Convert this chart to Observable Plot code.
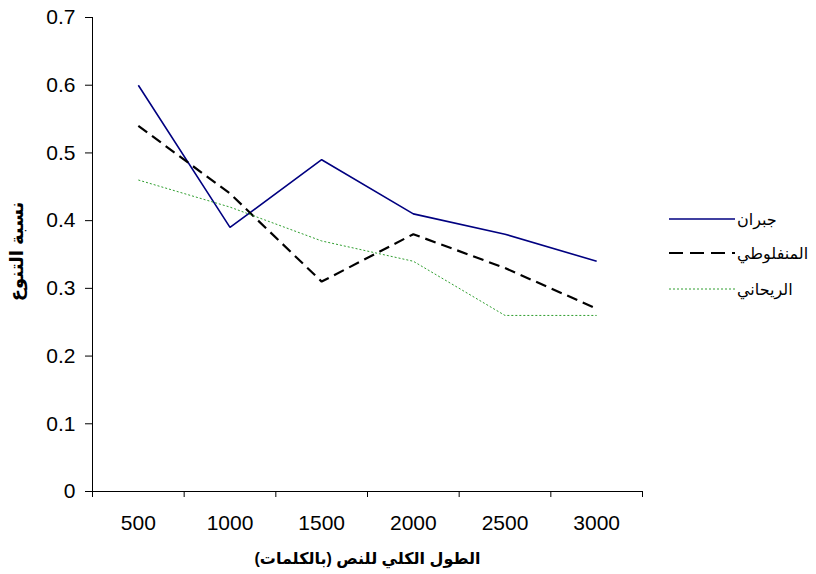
<!DOCTYPE html>
<html>
<head>
<meta charset="utf-8">
<script src="https://cdn.jsdelivr.net/npm/d3@7"></script>
<script src="https://cdn.jsdelivr.net/npm/@observablehq/plot@0.6"></script>
<style>
  html, body { margin: 0; padding: 0; background: #fff; }
  #wrap { position: relative; width: 816px; height: 574px; }
  #legend { position: absolute; left: 0; top: 0; width: 816px; height: 574px; pointer-events: none; }
  .item { position: absolute; left: 669px; height: 20px; display: flex; align-items: center; }
  .item span { font-family: "Liberation Sans", Arial, "DejaVu Sans", sans-serif; font-size: 16px; color: #000; white-space: nowrap; margin-left: 2px; }
</style>
</head>
<body>
<div id="wrap"></div>
<script>
// ---- data ----
const lengths = ["500", "1000", "1500", "2000", "2500", "3000"];
const jibran = [0.60, 0.39, 0.49, 0.41, 0.38, 0.34];
const manfaluti = [0.54, 0.44, 0.31, 0.38, 0.33, 0.27];
const rihani = [0.46, 0.42, 0.37, 0.34, 0.26, 0.26];
const yTicks = [0, 0.1, 0.2, 0.3, 0.4, 0.5, 0.6, 0.7];
const seriesNames = ["جبران", "المنفلوطي", "الريحاني"];
const xTitle = "الطول الكلي للنص (بالكلمات)";
const yTitle = "نسبة التنوع";

const idx = d3.range(lengths.length);
const bounds = d3.range(lengths.length + 1).map(i => i - 0.5);
const font = "'Liberation Sans', Arial, 'DejaVu Sans', sans-serif";

const styles = [
  {stroke: "#000080", strokeWidth: 1.6, strokeDasharray: null},
  {stroke: "#000000", strokeWidth: 2.2, strokeDasharray: "11,6"},
  {stroke: "#2e9e2e", strokeWidth: 1, strokeDasharray: "2,2"}
];
const series = [jibran, manfaluti, rihani];

const chart = Plot.plot({
  width: 816,
  height: 574,
  marginLeft: 92,
  marginRight: 174,
  marginTop: 17,
  marginBottom: 83,
  style: {fontFamily: font, fontSize: "21px", color: "#000", background: "#fff"},
  x: {type: "linear", domain: [-0.5, lengths.length - 0.5]},
  y: {domain: [0, 0.7]},
  marks: [
    Plot.axisY({ticks: yTicks, tickSize: 7, tickPadding: 10, tickFormat: d => String(d), label: null, fontSize: 21}),
    Plot.axisX({ticks: bounds, tickSize: 6, tickFormat: () => "", label: null}),
    Plot.axisX({ticks: idx, tickSize: 0, tickPadding: 24, tickFormat: i => lengths[i], label: null, fontSize: 21}),
    Plot.ruleX([-0.5], {stroke: "#000", strokeWidth: 1}),
    Plot.ruleY([0], {stroke: "#000", strokeWidth: 1}),
    ...series.map((s, k) => Plot.line(s, {
      x: (d, i) => i, y: d => d,
      stroke: styles[k].stroke,
      strokeWidth: styles[k].strokeWidth,
      strokeDasharray: styles[k].strokeDasharray,
      strokeLinejoin: "miter",
      strokeLinecap: "butt"
    })),
    Plot.text([xTitle], {
      frameAnchor: "bottom", dy: 67, text: d => d,
      fontWeight: "bold", fontSize: 16, fill: "#000",
      textAnchor: "middle", lineAnchor: "middle", ariaLabel: "xtitle"
    }),
    Plot.text([yTitle], {
      frameAnchor: "left", dx: -75, dy: -3, text: d => d, rotate: -90,
      fontWeight: "bold", fontSize: 18, fill: "#000",
      textAnchor: "middle", lineAnchor: "middle", ariaLabel: "ytitle"
    })
  ]
});

d3.select(chart).selectAll('g[aria-label="xtitle"] text, g[aria-label="ytitle"] text')
  .attr("direction", "rtl").attr("unicode-bidi", "embed");

const wrap = document.getElementById("wrap");
wrap.appendChild(chart);

// legend
const legend = document.createElement("div");
legend.id = "legend";
const rowsY = [219, 253, 289];
const legendDash = [null, "14,7", "2,2"];
seriesNames.forEach((name, k) => {
  const item = document.createElement("div");
  item.className = "item";
  item.style.top = (rowsY[k] - 10) + "px";
  const s = d3.create("svg").attr("width", 66).attr("height", 20);
  s.append("line").attr("x1", 0).attr("x2", 66).attr("y1", 10).attr("y2", 10)
    .attr("stroke", styles[k].stroke)
    .attr("stroke-width", k === 1 ? 2.2 : styles[k].strokeWidth)
    .attr("stroke-dasharray", legendDash[k]);
  item.appendChild(s.node());
  const t = document.createElement("span");
  t.dir = "rtl";
  t.textContent = name;
  item.appendChild(t);
  legend.appendChild(item);
});
wrap.appendChild(legend);
</script>
</body>
</html>
